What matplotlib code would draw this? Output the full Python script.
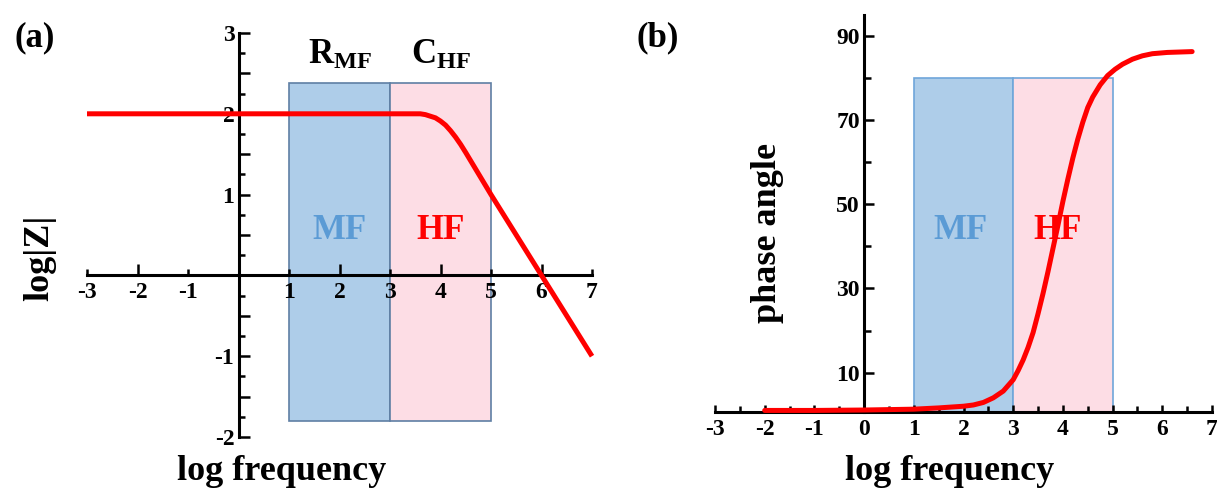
import matplotlib
matplotlib.use("Agg")
import matplotlib.pyplot as plt

plt.rcParams["font.family"] = ["Liberation Serif", "DejaVu Serif"]
plt.rcParams["font.weight"] = "bold"
plt.rcParams["mathtext.fontset"] = "custom"
plt.rcParams["mathtext.rm"] = "Liberation Serif:bold"
plt.rcParams["mathtext.it"] = "Liberation Serif:bold"
plt.rcParams["mathtext.bf"] = "Liberation Serif:bold"

# ---- data -------------------------------------------------------------
# Bode magnitude: log|Z| versus log frequency
mag_logf = [-3.0, 3.5, 3.6, 3.7, 3.8, 3.9, 4.0, 4.1, 4.2, 4.3, 4.4, 4.5, 5.0, 6.0, 7.0]
mag_logz = [2.0, 2.0, 2.0, 1.99, 1.97, 1.95, 1.91, 1.86, 1.79, 1.71, 1.62, 1.52, 1.0, 0.0, -1.0]

# Bode phase: phase angle (deg) versus log frequency
phase_logf = [-2.0, -1.0, 0.0, 1.0, 1.5, 2.0, 2.2, 2.4, 2.6, 2.8, 3.0, 3.1, 3.2, 3.3,
              3.4, 3.5, 3.6, 3.7, 3.8, 3.9, 4.0, 4.1, 4.2, 4.3, 4.4, 4.5, 4.6,
              4.75, 4.9, 5.05, 5.2, 5.4, 5.6, 5.8, 6.1, 6.6]
phase_deg = [1.0, 1.0, 1.1, 1.3, 1.6, 2.0, 2.3, 2.9, 4.0, 5.6, 8.3, 10.5, 13.0, 16.0,
             19.5, 24.0, 28.8, 34.0, 39.5, 45.0, 50.7, 56.0, 61.0, 65.5, 69.5, 73.0, 75.5,
             78.4, 80.6, 82.1, 83.3, 84.5, 85.3, 85.8, 86.1, 86.3]

# Frequency bands
band_names = ["MF", "HF"]
band_edges = [(1, 3), (3, 5)]
band_elements = [r"$R_{MF}$", r"$C_{HF}$"]
mag_band_range = (-1.8, 2.38)
phase_band_range = (0.7, 80)

# ---- style ------------------------------------------------------------
RED = "#ff0000"
BAND_FILL = ["#aecde9", "#fddde5"]
BAND_TEXT = ["#5b9bd5", "#ff0000"]
TICK_SIZE = 17
LABEL_SIZE = 26

W, H = 1217, 493
fig = plt.figure(figsize=(W / 100, H / 100), dpi=100)


def style_axes(ax):
    for s in ("top", "right"):
        ax.spines[s].set_visible(False)
    for s in ("left", "bottom"):
        ax.spines[s].set_linewidth(2.2)
    ax.tick_params(which="both", direction="in", width=1.8, labelsize=TICK_SIZE, pad=3)
    ax.tick_params(axis="x", which="both", pad=5)
    ax.set_facecolor("none")


def draw_bands(ax, yr, edge):
    for (x0, x1), fc in zip(band_edges, BAND_FILL):
        ax.bar((x0 + x1) / 2, yr[1] - yr[0], width=x1 - x0, bottom=yr[0],
               color=fc, edgecolor=edge, linewidth=1.2, zorder=1)


# ---- panel (a): magnitude ---------------------------------------------
ax1 = fig.add_axes([87 / W, (H - 437) / H, 505 / W, 404 / H])
style_axes(ax1)
ax1.set_xlim(-3, 7)
ax1.set_ylim(-2, 3)
ax1.spines["left"].set_position(("data", 0))
ax1.spines["bottom"].set_position(("data", 0))
draw_bands(ax1, mag_band_range, "#5f7fa4")
ax1.plot(mag_logf, mag_logz, color=RED, lw=3.6, zorder=4, clip_on=False,
         solid_capstyle="butt")

ax1.xaxis.remove_overlapping_locs = False
ax1.set_xticks([-2, 0, 2, 4, 6], ["-2", "", "2", "4", "6"])
ax1.set_xticks([-3, -1, 1, 3, 5, 7], ["-3", "-1", "1", "3", "5", "7"], minor=True)
ax1.tick_params(axis="x", which="major", length=8)
ax1.tick_params(axis="x", which="minor", length=4, labelsize=TICK_SIZE)
yt = [-2 + 0.5 * i for i in range(11)]
ax1.set_yticks(yt, [str(int(v)) if v == int(v) and v != 0 else "" for v in yt])
ax1.set_yticks([-2 + 0.25 * i for i in range(21)], minor=True)
ax1.tick_params(axis="y", which="major", length=8)
ax1.tick_params(axis="y", which="minor", length=4)

for (x0, x1), name, tc, elem in zip(band_edges, band_names, BAND_TEXT, band_elements):
    xc = (x0 + x1) / 2
    ax1.text(xc, 0.45, name, color=tc, fontsize=25, ha="center", va="baseline", zorder=5)
    ax1.text(xc, 2.62, elem, color="black", fontsize=25, ha="center", va="baseline")

# ---- panel (b): phase -------------------------------------------------
ax2 = fig.add_axes([715 / W, (H - 411.7) / H, 497 / W, 396.7 / H])
style_axes(ax2)
ax2.set_xlim(-3, 7)
ax2.set_ylim(phase_band_range[0], 95)
ax2.spines["left"].set_position(("data", 0))
draw_bands(ax2, phase_band_range, "#6fa6da")
ax2.plot(phase_logf, phase_deg, color=RED, lw=3.6, zorder=4, clip_on=False,
         solid_capstyle="round", solid_joinstyle="round")

ax2.set_xticks(range(-3, 8), [str(v) for v in range(-3, 8)])
ax2.set_xticks([-2.5 + i for i in range(10)], minor=True)
ax2.tick_params(axis="x", which="major", length=5)
ax2.tick_params(axis="x", which="minor", length=4)
ax2.set_yticks([10, 30, 50, 70, 90], ["10", "30", "50", "70", "90"])
ax2.set_yticks([20, 40, 60, 80], minor=True)
ax2.tick_params(axis="y", which="major", length=7)
ax2.tick_params(axis="y", which="minor", length=5)

for xc, name, tc in zip([1.93, 3.9], band_names, BAND_TEXT):
    ax2.text(xc, 41.8, name, color=tc, fontsize=25, ha="center", va="baseline", zorder=5)

# ---- labels -----------------------------------------------------------
fig.text(15 / W, 1 - 38 / H, "(a)", fontsize=25, ha="left", va="center")
fig.text(637 / W, 1 - 38 / H, "(b)", fontsize=25, ha="left", va="center")
fig.text(40 / W, 1 - 258 / H, "log|Z|", fontsize=LABEL_SIZE, rotation=90, ha="center", va="center")
fig.text(768 / W, 1 - 233 / H, "phase angle", fontsize=LABEL_SIZE, rotation=90, ha="center", va="center")
fig.text(282 / W, 1 - 472 / H, "log frequency", fontsize=LABEL_SIZE, ha="center", va="center")
fig.text(950 / W, 1 - 471 / H, "log frequency", fontsize=LABEL_SIZE, ha="center", va="center")

fig.savefig("out.png", dpi=100)
